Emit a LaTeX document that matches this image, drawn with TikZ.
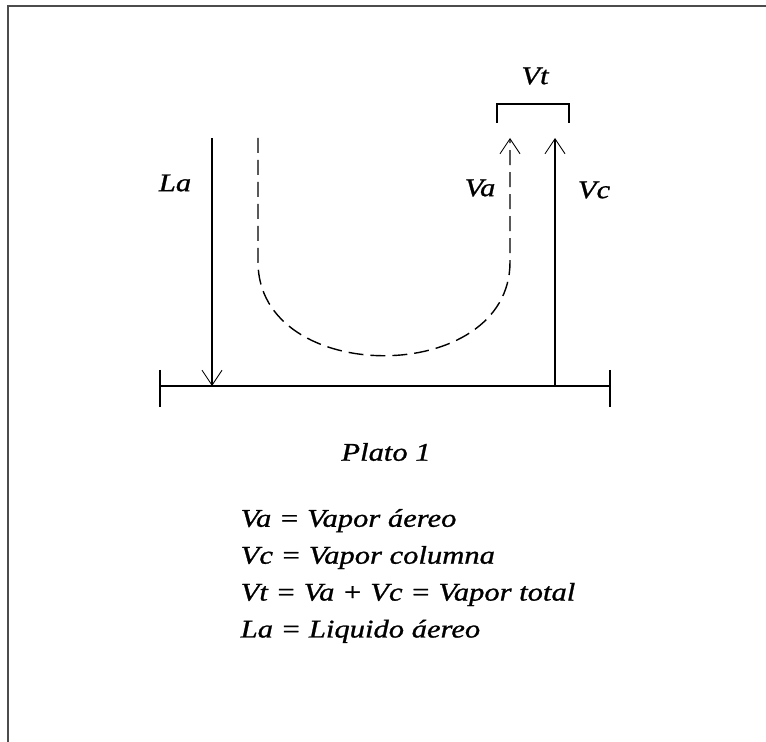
\documentclass[tikz,border=0pt]{standalone}
\usepackage{fontspec}
\setmainfont{Liberation Serif}[FakeStretch=1.2, FakeBold=1]
\usetikzlibrary{arrows.meta}

\begin{document}
\begin{tikzpicture}[x=0.2mm, y=-0.2mm, line width=0.8pt,
        >={Straight Barb[length=3mm, width=4mm, line width=0.5pt]},
        lbl/.style={font=\fontsize{14.5}{17}\selectfont\itshape, inner sep=0pt},
        flow/.style={->},
        vapor/.style={->, dash pattern=on 8.5pt off 4pt}]
    \useasboundingbox (0,0) rectangle (766,742);

    % Frame (top and left edges only)
    \draw[line width=1.2pt, black!70] (8,742) -- (8,6) -- (766,6);

    % Plate
    \coordinate (platel) at (160,386);
    \coordinate (plater) at (610,386);
    \draw (platel) -- (plater);
    \draw (160,370) -- (160,407);
    \draw (610,370) -- (610,407);

    % Liquid down to the plate
    \coordinate (latop) at (212,138);
    \coordinate (labot) at (212,386);
    \draw[flow] (latop) -- (labot);
    \node[lbl] (la) at (175,183) {La};

    % Column vapour up from the plate
    \coordinate (vcbot) at (555,386);
    \coordinate (vctop) at (555,138);
    \draw[flow] (vcbot) -- (vctop);
    \node[lbl] (vc) at (594,190) {Vc};

    % Entrained vapour (U path)
    \coordinate (vastart) at (258,138);
    \coordinate (vatop) at (510,138);
    \draw[vapor] (vastart) -- (258,262) .. controls (258,387) and (510,387) .. (510,262) -- (vatop);
    \node[lbl] (va) at (480,188) {Va};

    % Total vapour bracket
    \coordinate (vtl) at (497,123);
    \coordinate (vtr) at (569,123);
    \draw (vtl) -- (497,104) -- (569,104) -- (vtr);
    \node[lbl] (vt) at (535,76) {Vt};

    % Caption and legend
    \node[lbl] (plato) at (386,452) {Plato 1};
    \node[lbl, anchor=west, align=left, font=\fontsize{14.5}{21}\selectfont\itshape] (legend) at (240,576) {
        Va = Vapor áereo \\
        Vc = Vapor columna \\
        Vt = Va + Vc = Vapor total \\
        La = Liquido áereo
    };
\end{tikzpicture}
\end{document}
